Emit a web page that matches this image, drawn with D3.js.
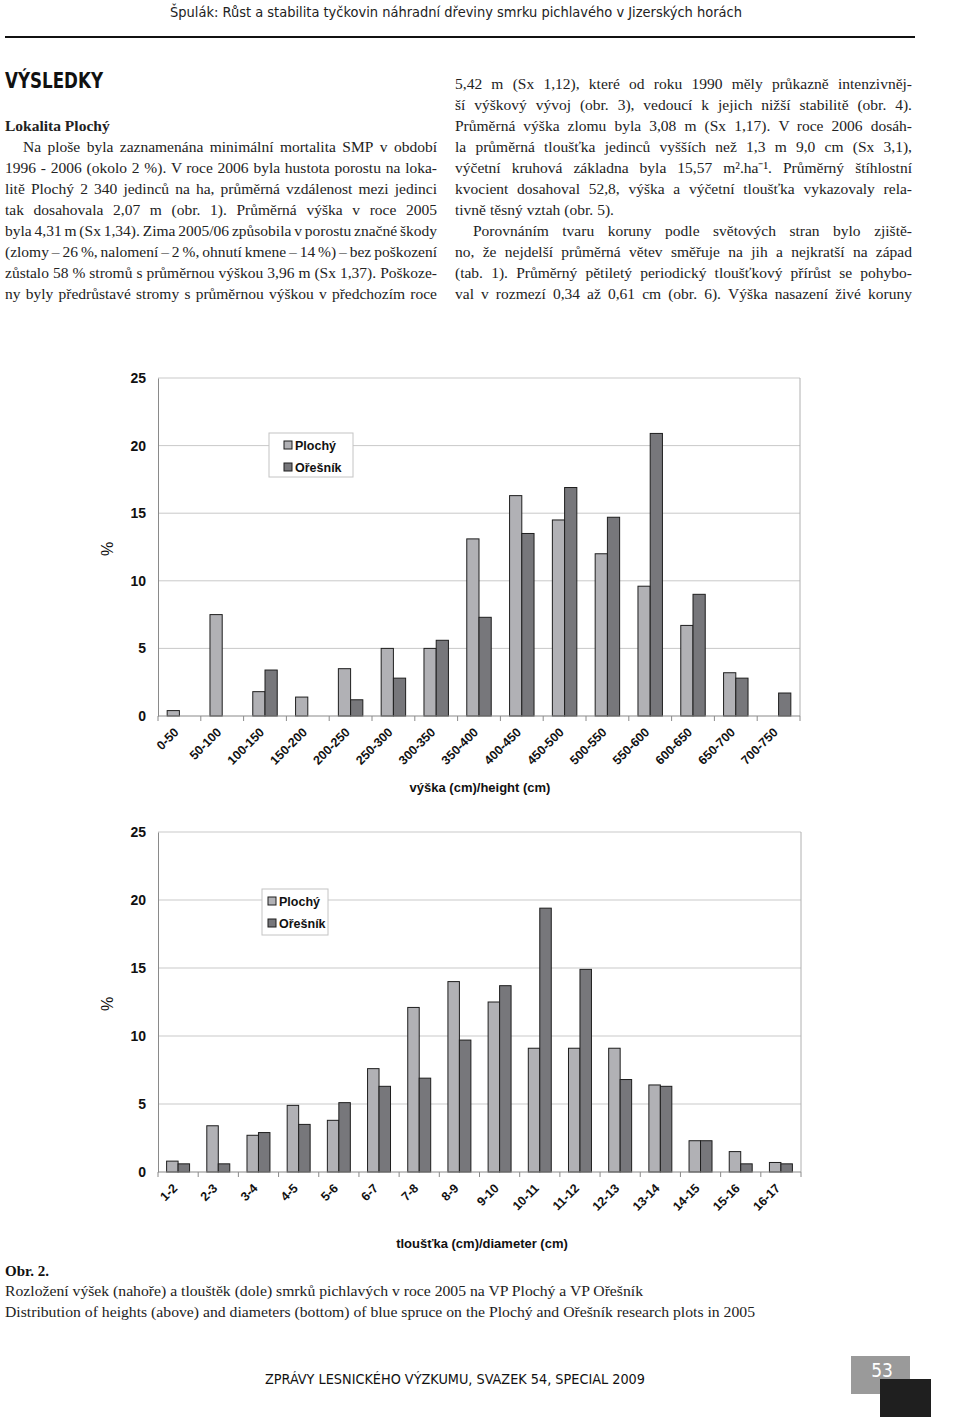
<!DOCTYPE html>
<html>
<head>
<meta charset="utf-8">
<script src="https://cdn.jsdelivr.net/npm/d3@7/dist/d3.min.js"></script>
<style>
  body { margin: 0; background: #fff; }
  svg { display: block; }
</style>
</head>
<body>
<div id="page"></div>
<script>
// ---- data ----
const heightCats = ["0-50", "50-100", "100-150", "150-200", "200-250", "250-300", "300-350",
  "350-400", "400-450", "450-500", "500-550", "550-600", "600-650", "650-700", "700-750"];
const heightPlochy = [0.4, 7.5, 1.8, 1.4, 3.5, 5.0, 5.0, 13.1, 16.3, 14.5, 12.0, 9.6, 6.7, 3.2, 0];
const heightOresnik = [0, 0, 3.4, 0, 1.2, 2.8, 5.6, 7.3, 13.5, 16.9, 14.7, 20.9, 9.0, 2.8, 1.7];

const diamCats = ["1-2", "2-3", "3-4", "4-5", "5-6", "6-7", "7-8", "8-9", "9-10",
  "10-11", "11-12", "12-13", "13-14", "14-15", "15-16", "16-17"];
const diamPlochy = [0.8, 3.4, 2.7, 4.9, 3.8, 7.6, 12.1, 14.0, 12.5, 9.1, 9.1, 9.1, 6.4, 2.3, 1.5, 0.7];
const diamOresnik = [0.6, 0.6, 2.9, 3.5, 5.1, 6.3, 6.9, 9.7, 13.7, 19.4, 14.9, 6.8, 6.3, 2.3, 0.6, 0.6];

const seriesNames = ["Plochý", "Ořešník"];
const yTicks = [0, 5, 10, 15, 20, 25];

const leftLines = [
  "Na ploše byla zaznamenána minimální mortalita SMP v období",
  "1996 - 2006 (okolo 2 %). V roce 2006 byla hustota porostu na loka-",
  "litě Plochý 2 340 jedinců na ha, průměrná vzdálenost mezi jedinci",
  "tak dosahovala 2,07 m (obr. 1). Průměrná výška v roce 2005",
  "byla 4,31 m (Sx 1,34). Zima 2005/06 způsobila v porostu značné škody",
  "(zlomy – 26 %, nalomení – 2 %, ohnutí kmene – 14 %) – bez poškození",
  "zůstalo 58 % stromů s průměrnou výškou 3,96 m (Sx 1,37). Poškoze-",
  "ny byly předrůstavé stromy s průměrnou výškou v předchozím roce"
];
const rightLines = [
  "5,42 m (Sx 1,12), které od roku 1990 měly průkazně intenzivněj-",
  "ší výškový vývoj (obr. 3), vedoucí k jejich nižší stabilitě (obr. 4).",
  "Průměrná výška zlomu byla 3,08 m (Sx 1,17). V roce 2006 dosáh-",
  "la průměrná tloušťka jedinců vyšších než 1,3 m 9,0 cm (Sx 3,1),",
  "výčetní kruhová základna byla 15,57 m².ha⁻¹. Průměrný štíhlostní",
  "kvocient dosahoval 52,8, výška a výčetní tloušťka vykazovaly rela-",
  "tivně těsný vztah (obr. 5).",
  "Porovnáním tvaru koruny podle světových stran bylo zjiště-",
  "no, že nejdelší průměrná větev směřuje na jih a nejkratší na západ",
  "(tab. 1). Průměrný pětiletý periodický tloušťkový přírůst se pohybo-",
  "val v rozmezí 0,34 až 0,61 cm (obr. 6). Výška nasazení živé koruny"
];

const W = 960, H = 1417;
const svg = d3.select("#page").append("svg").attr("width", W).attr("height", H);

const sans = "'DejaVu Sans Condensed', 'DejaVu Sans', sans-serif";
const serif = "'Liberation Serif', 'Times New Roman', serif";
const arial = "'Liberation Sans', Arial, sans-serif";

// ---- page header ----
svg.append("text").attr("x", 170).attr("y", 17)
  .attr("font-family", sans).attr("font-size", 14).attr("fill", "#222")
  .attr("textLength", 572).attr("lengthAdjust", "spacingAndGlyphs")
  .text("Špulák: Růst a stabilita tyčkovin náhradní dřeviny smrku pichlavého v Jizerských horách");
svg.append("line").attr("x1", 5).attr("x2", 915).attr("y1", 37).attr("y2", 37)
  .attr("stroke", "#111").attr("stroke-width", 2);
svg.append("text").attr("x", 5).attr("y", 88)
  .attr("font-family", sans).attr("font-size", 22).attr("font-weight", "bold").attr("fill", "#111")
  .attr("textLength", 98).attr("lengthAdjust", "spacingAndGlyphs")
  .text("VÝSLEDKY");

// justified text line: words spread between x0 and x1
const bodySize = 15.5;
function textLine(x0, x1, y, str, justify) {
  const words = str.split(" ");
  const g = svg.append("text").attr("y", y)
    .attr("font-family", serif).attr("font-size", bodySize).attr("fill", "#222");
  let spans = words.map(w => g.append("tspan").text(w));
  let widths = spans.map(s => s.node().getComputedTextLength());
  let total = d3.sum(widths);
  const minGap = 2.5;
  const avail = x1 - x0 - (words.length - 1) * minGap;
  if (justify && total > avail) {
    // squeeze glyphs slightly instead of shrinking the font
    const k = avail / total;
    spans.forEach((s, i) => {
      s.attr("textLength", widths[i] * k).attr("lengthAdjust", "spacingAndGlyphs");
    });
    widths = widths.map(w => w * k);
    total = d3.sum(widths);
  }
  let gap = 4;
  if (justify && words.length > 1) gap = (x1 - x0 - total) / (words.length - 1);
  let x = x0;
  spans.forEach((s, i) => { s.attr("x", x); x += widths[i] + gap; });
}

svg.append("text").attr("x", 5).attr("y", 131)
  .attr("font-family", serif).attr("font-size", bodySize).attr("font-weight", "bold").attr("fill", "#222")
  .text("Lokalita Plochý");
leftLines.forEach((l, i) => {
  textLine(i === 0 ? 23 : 5, 437, 152 + i * 21, l, true);
});
rightLines.forEach((l, i) => {
  textLine(i === 7 ? 473 : 455, 912, 89 + i * 21, l, i !== 6);
});

// ---- bar chart ----
function barChart(cfg) {
  const x = d3.scaleBand().domain(cfg.cats).range([cfg.left, cfg.right]).paddingInner(0).paddingOuter(0);
  const bw = x.bandwidth();
  const xs = d3.scaleBand().domain(seriesNames).range([bw * 0.75 / 3.5, bw * 2.75 / 3.5]);
  const y = d3.scaleLinear().domain([0, 25]).range([cfg.bottom, cfg.top]);
  const fills = { "Plochý": "#b1b1b5", "Ořešník": "#77777b" };

  const g = svg.append("g");

  // gridlines
  g.selectAll(".grid").data(yTicks.filter(d => d > 0)).enter().append("line")
    .attr("x1", cfg.left).attr("x2", cfg.right)
    .attr("y1", d => y(d)).attr("y2", d => y(d))
    .attr("stroke", "#c9c9c9").attr("stroke-width", 1);
  // right border
  g.append("line").attr("x1", cfg.right).attr("x2", cfg.right)
    .attr("y1", y(25)).attr("y2", y(0)).attr("stroke", "#b0b0b0");

  // y axis
  const yAxis = g.append("g").attr("transform", `translate(${cfg.left},0)`)
    .call(d3.axisLeft(y).tickValues(yTicks).tickSize(0).tickPadding(12));
  yAxis.select(".domain").attr("stroke", "#8a8a8a");
  yAxis.selectAll("text").attr("font-family", arial).attr("font-size", 14)
    .attr("font-weight", "bold").attr("fill", "#111");

  // bars
  const rows = cfg.cats.map((c, i) => ({ cat: c, vals: [cfg.a[i], cfg.b[i]] }));
  rows.forEach(r => {
    seriesNames.forEach((s, k) => {
      const v = r.vals[k];
      if (!v) return;
      g.append("rect")
        .attr("x", x(r.cat) + xs(s)).attr("width", xs.bandwidth())
        .attr("y", y(v)).attr("height", y(0) - y(v))
        .attr("fill", fills[s]).attr("stroke", "#1e1e1e").attr("stroke-width", 1);
    });
  });

  // x axis line + boundary ticks
  g.append("line").attr("x1", cfg.left).attr("x2", cfg.right)
    .attr("y1", y(0)).attr("y2", y(0)).attr("stroke", "#8a8a8a").attr("stroke-width", 1.2);
  const bounds = cfg.cats.map(c => x(c)).concat([cfg.right]);
  g.selectAll(".tk").data(bounds).enter().append("line")
    .attr("x1", d => d).attr("x2", d => d)
    .attr("y1", y(0)).attr("y2", y(0) + 5).attr("stroke", "#8a8a8a");

  // category labels
  g.selectAll(".xl").data(cfg.cats).enter().append("text")
    .attr("transform", d => `translate(${x(d) + bw / 2},${y(0) + 17}) rotate(-45)`)
    .attr("text-anchor", "end")
    .attr("font-family", arial).attr("font-size", 12.5).attr("font-weight", "bold").attr("fill", "#111")
    .text(d => d);

  // axis titles
  g.append("text").attr("x", cfg.titleX).attr("y", cfg.titleY).attr("text-anchor", "middle")
    .attr("font-family", arial).attr("font-size", 13).attr("font-weight", "bold").attr("fill", "#111")
    .text(cfg.title);
  g.append("text")
    .attr("transform", `translate(113,${(y(0) + y(25)) / 2 + 2}) rotate(-90)`)
    .attr("text-anchor", "middle")
    .attr("font-family", arial).attr("font-size", 16).attr("fill", "#111")
    .text("%");

  // legend
  const L = cfg.legend;
  g.append("rect").attr("x", L.x).attr("y", L.y).attr("width", L.w).attr("height", L.h)
    .attr("fill", "#fff").attr("stroke", "#c4c4c4");
  seriesNames.forEach((s, k) => {
    const cy = L.y + 12 + k * 22;
    g.append("rect").attr("x", L.sx).attr("y", cy - 4).attr("width", 8).attr("height", 8)
      .attr("fill", fills[s]).attr("stroke", "#1e1e1e");
    g.append("text").attr("x", L.sx + 11).attr("y", cy + 4.5)
      .attr("font-family", arial).attr("font-size", 12.5).attr("font-weight", "bold").attr("fill", "#111")
      .text(s);
  });
}

barChart({
  cats: heightCats, a: heightPlochy, b: heightOresnik,
  left: 158, right: 800, top: 378, bottom: 716,
  title: "výška (cm)/height (cm)", titleX: 480, titleY: 792,
  legend: { x: 269, y: 433, w: 84, h: 44, sx: 284 }
});

barChart({
  cats: diamCats, a: diamPlochy, b: diamOresnik,
  left: 158, right: 801, top: 832, bottom: 1172,
  title: "tloušťka (cm)/diameter (cm)", titleX: 482, titleY: 1248,
  legend: { x: 262, y: 889, w: 66, h: 46, sx: 268 }
});

// ---- caption ----
svg.append("text").attr("x", 5).attr("y", 1276)
  .attr("font-family", serif).attr("font-size", 15).attr("font-weight", "bold").attr("fill", "#111")
  .text("Obr. 2.");
svg.append("text").attr("x", 5).attr("y", 1296)
  .attr("font-family", serif).attr("font-size", 15.5).attr("fill", "#222")
  .attr("textLength", 638).attr("lengthAdjust", "spacingAndGlyphs")
  .text("Rozložení výšek (nahoře) a tlouštěk (dole) smrků pichlavých v roce 2005 na VP Plochý a VP Ořešník");
svg.append("text").attr("x", 5).attr("y", 1317)
  .attr("font-family", serif).attr("font-size", 15.5).attr("fill", "#222")
  .attr("textLength", 750).attr("lengthAdjust", "spacingAndGlyphs")
  .text("Distribution of heights (above) and diameters (bottom) of blue spruce on the Plochý and Ořešník research plots in 2005");

// ---- footer ----
svg.append("text").attr("x", 265).attr("y", 1384)
  .attr("font-family", sans).attr("font-size", 14).attr("fill", "#111")
  .attr("textLength", 380).attr("lengthAdjust", "spacingAndGlyphs")
  .text("ZPRÁVY LESNICKÉHO VÝZKUMU, SVAZEK 54, SPECIAL 2009");
svg.append("rect").attr("x", 851).attr("y", 1356).attr("width", 59).attr("height", 38).attr("fill", "#9a9a9a");
svg.append("rect").attr("x", 880).attr("y", 1379).attr("width", 51).attr("height", 38).attr("fill", "#1f1f1f");
svg.append("text").attr("x", 882).attr("y", 1377).attr("text-anchor", "middle")
  .attr("font-family", sans).attr("font-size", 19).attr("fill", "#fff")
  .text("53");
</script>
</body>
</html>
